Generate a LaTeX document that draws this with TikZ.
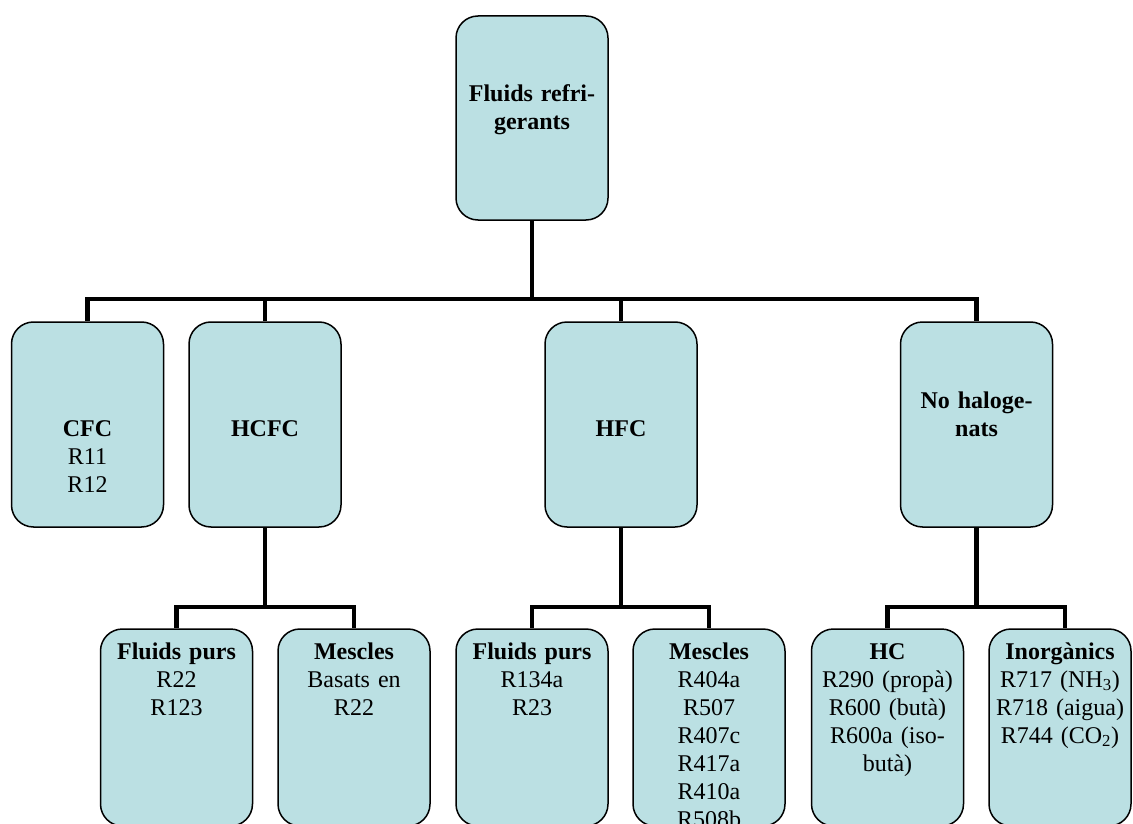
\documentclass[tikz,border=0pt]{standalone}
\usepackage{fontspec}
\setmainfont{Liberation Serif}
\definecolor{boxfill}{RGB}{187,224,227}
\begin{document}
\begin{tikzpicture}[x=1pt,y=-1pt,
  box/.style={draw=black, line width=1.5pt, fill=boxfill, rounded corners=22pt,
              inner sep=0pt, minimum width=152pt},
  topbox/.style={box, minimum height=204pt},
  midbox/.style={box, minimum height=205pt},
  lowbox/.style={box, minimum height=197pt},
  txt/.style={text width=150pt, align=center, anchor=base, inner sep=0pt,
              font=\fontsize{24}{28}\selectfont},
  conn/.style={line width=4.5pt, line join=miter}]
\useasboundingbox (0,0) rectangle (1133,824);
\clip (0,0) rectangle (1133,824);

% bus rails
\coordinate (bus0) at (532,299);
\coordinate (bus1) at (265,607);
\coordinate (bus2) at (621,607);
\coordinate (bus3) at (976.5,607);

% boxes
\node[topbox] (root) at (532,118) {};
\node[midbox] (cfc)  at (87.5,424.5) {};
\node[midbox] (hcfc) at (265,424.5) {};
\node[midbox] (hfc)  at (621,424.5) {};
\node[midbox] (noh)  at (976.5,424.5) {};
\node[lowbox] (fp1)  at (176.5,727.5) {};
\node[lowbox] (mx1)  at (354,727.5) {};
\node[lowbox] (fp2)  at (532,727.5) {};
\node[lowbox] (mx2)  at (709,727.5) {};
\node[lowbox] (hc)   at (887.5,727.5) {};
\node[lowbox, minimum width=142pt] (inorg) at (1060,727.5) {};

% connectors
\draw[conn] (root.south) -- (bus0);
\draw[conn] (bus0) -| (cfc.north);
\draw[conn] (bus0) -| (hcfc.north);
\draw[conn] (bus0) -| (hfc.north);
\draw[conn] (bus0) -| (noh.north);

\draw[conn] (hcfc.south) -- (bus1);
\draw[conn] (bus1) -| (fp1.north);
\draw[conn] (bus1) -| (mx1.north);

\draw[conn] (hfc.south) -- (bus2);
\draw[conn] (bus2) -| (fp2.north);
\draw[conn] (bus2) -| (mx2.north);

\draw[conn] (noh.south) -- (bus3);
\draw[conn] (bus3) -| (hc.north);
\draw[conn] (bus3) -| ([xshift=5pt]inorg.north);

% labels
\node[txt] (root-t) at (532,102) {\textbf{Fluids refri-}\\\textbf{gerants}};
\node[txt] (cfc-t)  at (87.5,436) {\textbf{CFC}\\R11\\R12};
\node[txt] (hcfc-t) at (265,436) {\textbf{HCFC}};
\node[txt] (hfc-t)  at (621,436) {\textbf{HFC}};
\node[txt] (noh-t)  at (976.5,408) {\textbf{No haloge-}\\\textbf{nats}};
\node[txt] (fp1-t)  at (176.5,659) {\textbf{Fluids purs}\\R22\\R123};
\node[txt] (mx1-t)  at (354,659) {\textbf{Mescles}\\Basats en\\R22};
\node[txt] (fp2-t)  at (532,659) {\textbf{Fluids purs}\\R134a\\R23};
\node[txt] (mx2-t)  at (709,659) {\textbf{Mescles}\\R404a\\R507\\R407c\\R417a\\R410a\\R508b};
\node[txt] (hc-t)   at (887.5,659) {\textbf{HC}\\R290 (propà)\\R600 (butà)\\R600a (iso-\\butà)};
\node[txt] (inorg-t) at (1060,659) {\textbf{Inorgànics}\\R717 (NH\textsubscript{3})\\R718 (aigua)\\R744 (CO\textsubscript{2})};
\end{tikzpicture}
\end{document}
